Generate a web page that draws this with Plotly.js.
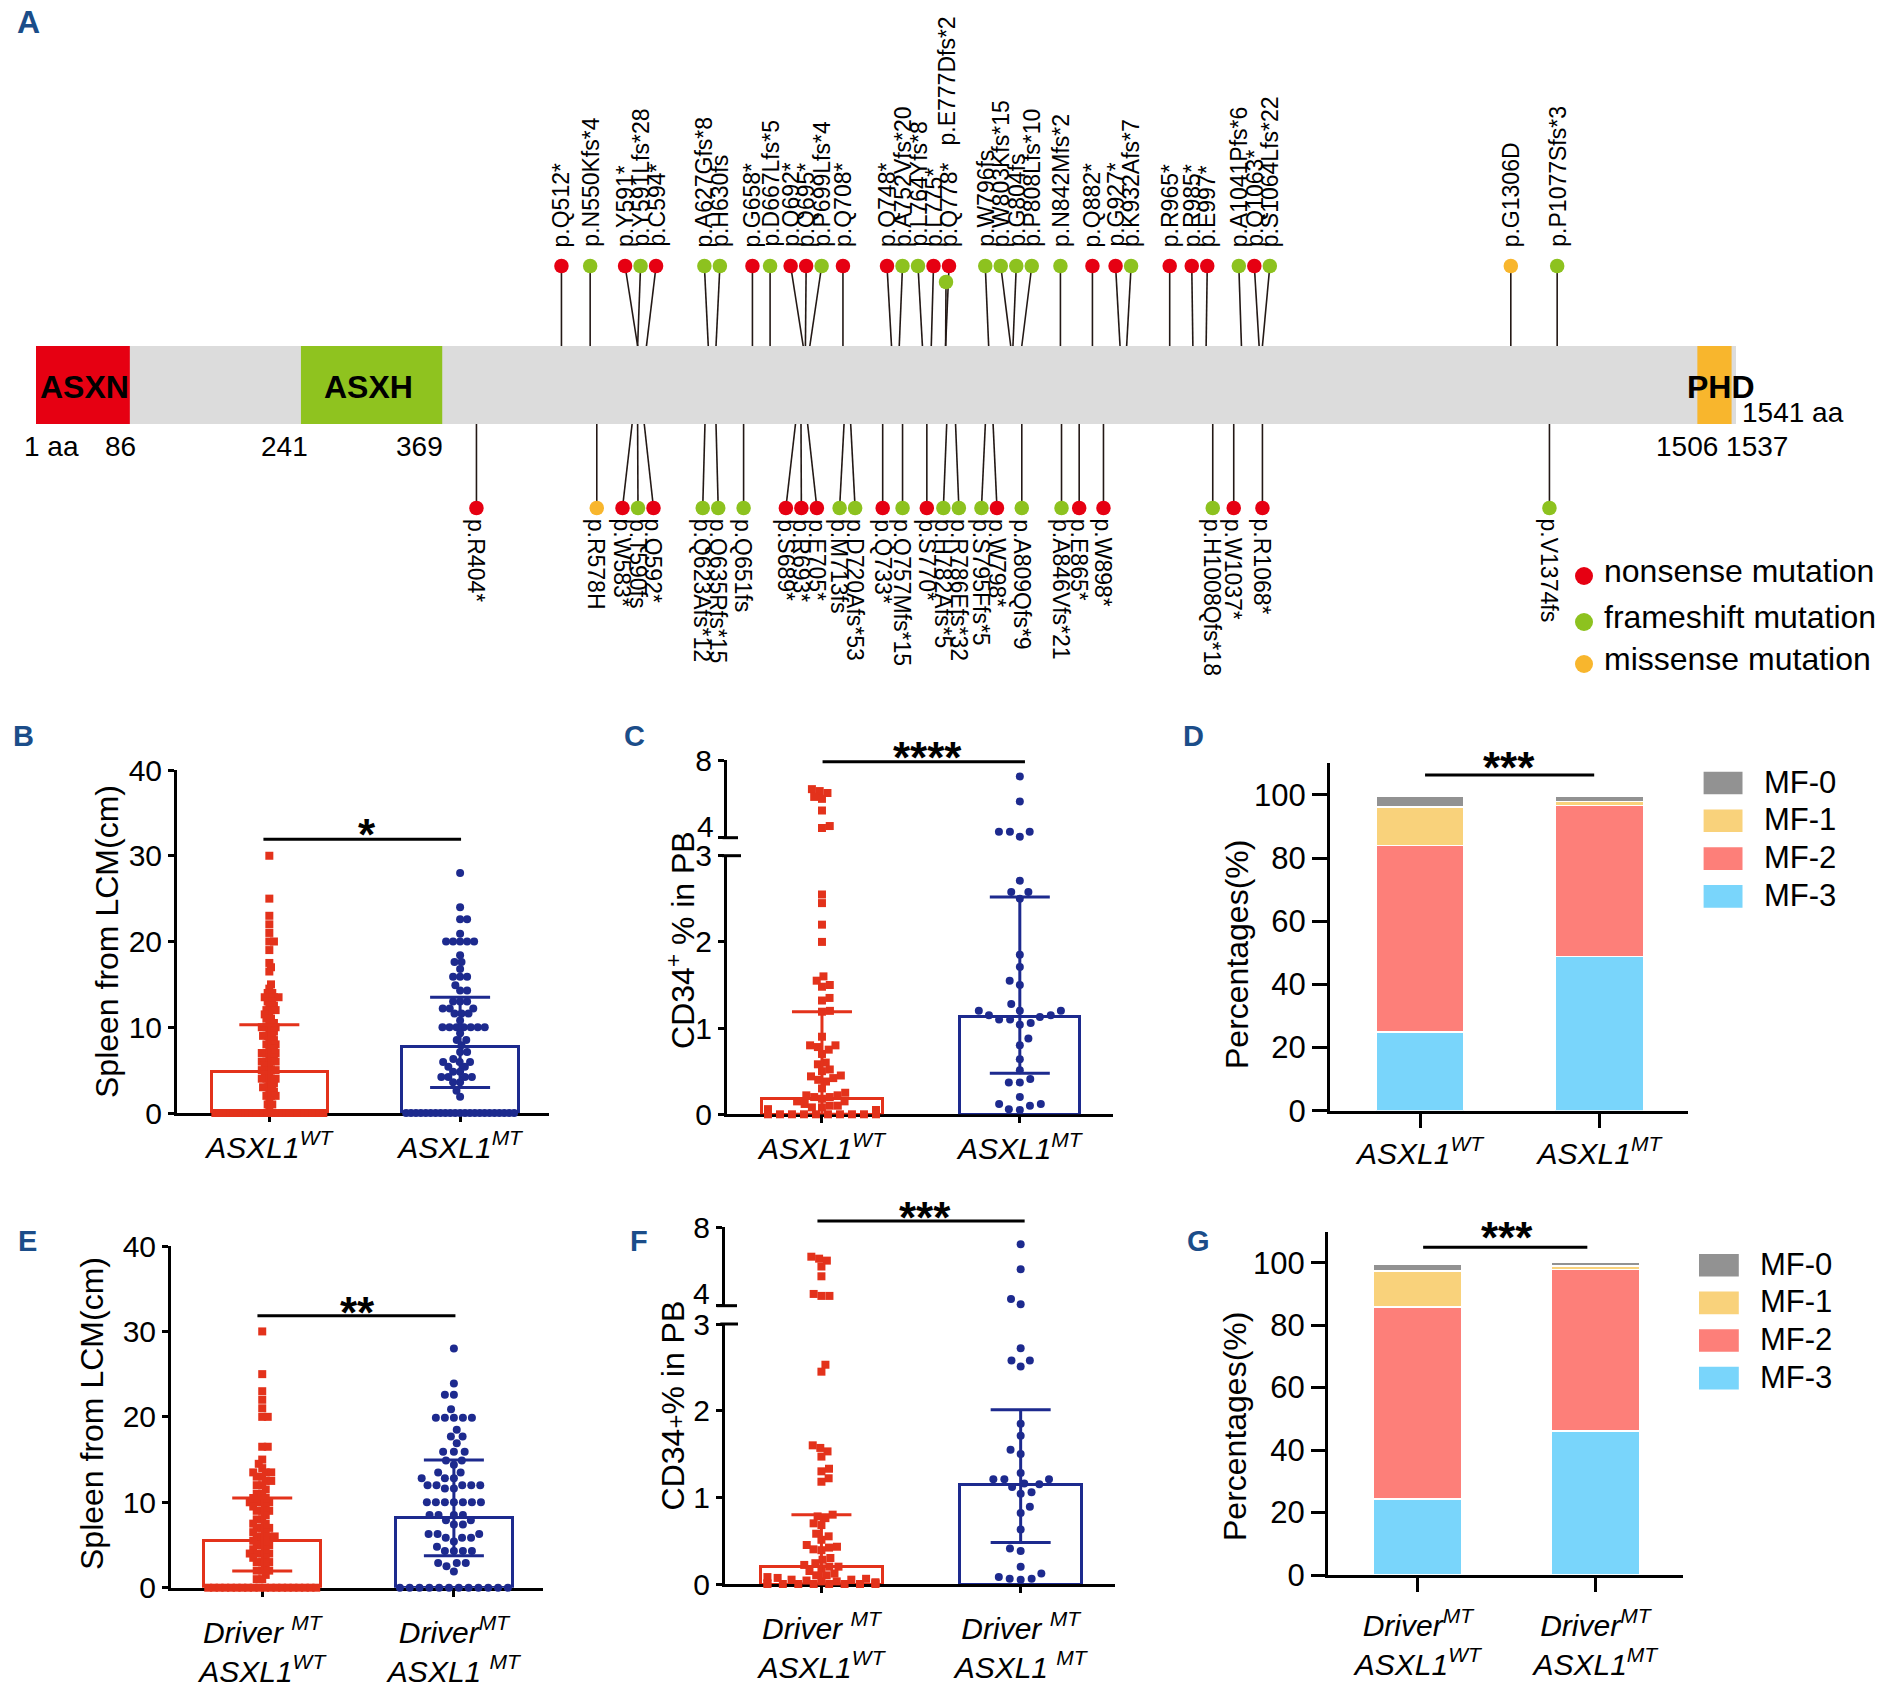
<!DOCTYPE html>
<html><head><meta charset="utf-8">
<script src="https://cdn.plot.ly/plotly-3.0.1.min.js"></script>
<style>html,body{margin:0;padding:0;background:#fff}</style>
</head><body><div id="chart" style="width:1897px;height:1698px"></div>
<script>
// ====================== DATA ======================
// Panel A: ASXL1 protein, domains, mutations (positions, aa scale of the bar)
const proteinLength = 1541;
const domainNames  = ['ASXN', 'ASXH', 'PHD'];
const domainStarts = [1, 241, 1506];
const domainEnds   = [86, 369, 1537];
const positionLabels = ['1 aa', '86', '241', '369', '1506 1537', '1541 aa'];

const topMutLabels = ['p.Q512*','p.N550Kfs*4','p.Y591*','p.Y591Lfs*28','p.C594*','p.A627Gfs*8','p.H630fs','p.G658*','p.D667Lfs*5','p.Q692*','p.Q695*','p.P699Lfs*4','p.Q708*','p.Q748*','p.A752Vfs*20','p.L764Yfs*8','p.L775*','p.Q778*','p.E777Dfs*2','p.W796fs','p.W803Kfs*15','p.G804fs','p.P808Lfs*10','p.N842Mfs*2','p.Q882*','p.G927*','p.K932Afs*7','p.R965*','p.R985*','p.E997*','p.A1041Pfs*6','p.Q1063*','p.S1064Lfs*22','p.G1306D','p.P1077Sfs*3'];
const topMutTypes = ['nonsense','frameshift','nonsense','frameshift','nonsense','frameshift','frameshift','nonsense','frameshift','nonsense','nonsense','frameshift','nonsense','nonsense','frameshift','frameshift','nonsense','nonsense','frameshift','frameshift','frameshift','frameshift','frameshift','frameshift','nonsense','nonsense','frameshift','nonsense','nonsense','nonsense','frameshift','nonsense','frameshift','missense','frameshift'];
const topMutPos = [477,503,546,546,554,610,617,650,666,696,698,702,732,776,783,804,812,825,825,864,884,886,894,929,958,983,989,1028,1049,1061,1093,1109,1112,1337,1379];

const botMutLabels = ['p.R404*','p.R578H','p.W583*','p.T590fs','p.Q592*','p.Q623Afs*12','p.Q635Rfs*15','p.Q651fs','p.S689*','p.R693*','p.E705*','p.M713fs','p.D720Afs*53','p.Q733*','p.Q757Mfs*15','p.S770*','p.H782Afs*5','p.R786Efs*32','p.S795Ffs*5','p.W798*','p.A809Qfs*9','p.A846Vfs*21','p.E865*','p.W898*','p.H1008Qfs*18','p.W1037*','p.R1068*','p.V1374fs'];
const botMutTypes = ['nonsense','missense','nonsense','frameshift','nonsense','frameshift','frameshift','frameshift','nonsense','nonsense','nonsense','frameshift','frameshift','nonsense','frameshift','nonsense','frameshift','frameshift','frameshift','nonsense','frameshift','frameshift','nonsense','nonsense','frameshift','nonsense','nonsense','frameshift'];
const botMutPos = [400,509,541,546,552,607,617,642,689,694,700,733,739,768,786,808,826,834,861,868,894,930,946,968,1067,1086,1112,1372];

const mutTypes = ['nonsense','frameshift','missense'];
const mutTypeLabels = ['nonsense mutation','frameshift mutation','missense mutation'];

// Panels B/C/D tick labels, E/F/G tick labels
const ticksBCD = ['<i>ASXL1<sup>WT</sup></i>', '<i>ASXL1<sup>MT</sup></i>'];
const ticksE = ['<i>Driver <sup>MT</sup></i><br><i>ASXL1<sup>WT</sup></i>', '<i>Driver<sup>MT</sup></i><br><i>ASXL1 <sup>MT</sup></i>'];
const ticksF = ['<i>Driver <sup>MT</sup></i><br><i>ASXL1<sup>WT</sup></i>', '<i>Driver <sup>MT</sup></i><br><i>ASXL1 <sup>MT</sup></i>'];
const ticksG = ['<i>Driver<sup>MT</sup></i><br><i>ASXL1<sup>WT</sup></i>', '<i>Driver<sup>MT</sup></i><br><i>ASXL1<sup>MT</sup></i>'];

// Panel B: spleen (cm), individual values
const spleenB_WT = [30,25,23,22,21,20,20,19,17.5,17,16.5,15,14.5,14,14,13.5,13.5,13.5,13.5,13,13,12.5,12.5,12,12,12,11.5,11.5,11,11,10.5,10.5,10,10,10,10,9.5,9.5,9,9,9,8.5,8.5,8,8,8,7.5,7.5,7,7,7,7,6.5,6.5,6,6,6,6,5.5,5.5,5,5,5,5,4.5,4.5,4,4,4,4,3.5,3.5,3,3,3,2.5,2.5,2,2,2,1.5,1,1,0.5,0,0,0,0,0,0,0,0,0,0,0,0,0,0,0,0,0,0,0,0,0,0,0,0,0,0,0,0,0,0];
const spleenB_MT = [28,24,22.6,22.6,20.9,20,20,20,20,20,18.4,17.6,17.6,16.8,15.9,15.9,15.9,14.9,14.3,14.3,13,13,13,12.2,12.2,12.2,11.6,11.6,11.6,10.8,10,10,10,10,10,10,10,9.3,8.5,8.5,7.9,7.1,7.1,6.3,5.95,5.95,5.95,5.4,5.4,4.8,4.8,4.2,4.2,4.2,4.2,3.6,3.6,2.6,1.9,0,0,0,0,0,0,0,0,0,0,0,0,0,0,0,0,0,0,0,0,0,0,0];
const spleenB_bar = [4.8, 7.8];
const spleenB_hi  = [10.3, 13.5];
const spleenB_lo  = [0, 2.96];

// Panel C: CD34+ % in PB
const cd34C_WT = [6.5,6.4,6.3,6.1,6.0,5.4,4.6,4.5,2.55,2.45,2.2,2.0,1.6,1.55,1.5,1.48,1.35,1.32,1.2,1.19,0.9,0.8,0.8,0.78,0.75,0.7,0.6,0.58,0.52,0.5,0.45,0.44,0.42,0.4,0.38,0.3,0.25,0.22,0.22,0.2,0.2,0.18,0.15,0.15,0.12,0.1,0.1,0.08,0.08,0.06,0.05,0.05,0.04,0.03,0.03,0.02,0.02,0.01,0.01,0,0,0,0,0,0,0,0,0,0];
const cd34C_MT = [7.15,5.86,4.3,4.3,4.3,4.05,2.71,2.58,2.58,2.5,1.85,1.71,1.55,1.5,1.28,1.2,1.2,1.2,1.15,1.15,1.13,1.1,1.1,1.06,1.04,0.88,0.8,0.64,0.51,0.41,0.37,0.37,0.2,0.12,0.12,0.1,0.06,0.05];
const cd34C_bar = [0.186, 1.14];
const cd34C_hi  = [1.19, 2.52];
const cd34C_lo  = [0, 0.476];

// Panel D: MF grade percentages (MF-0, MF-1, MF-2, MF-3)
const mfGrades = ['MF-0','MF-1','MF-2','MF-3'];
const mfD_WT = [3.3, 12.2, 59, 25];
const mfD_MT = [1.5, 1.4, 47.8, 48.8];

// Panel E: spleen (cm), driver-mutated patients
const spleenE_WT = [30,25,23,22,21,20,20,16.5,16.5,15,14.5,14,13.5,13.5,13.5,13,13,12.5,12.5,12,12,11.5,11,11,10.5,10.5,10,10,10,10,9.5,9.5,9,9,9,8.5,8,8,7.5,7.5,7,7,7,6.5,6.5,6,6,6,6,5.5,5.5,5,5,5,4.5,4.5,4,4,4,4,3.5,3.5,3,3,3,2.5,2,2,2,1.5,1,1,0,0,0,0,0,0,0,0,0,0,0,0,0,0,0,0,0,0,0,0];
const spleenE_MT = [28,23.9,22.6,22.6,20.9,19.9,19.9,19.9,19.9,19.9,18.5,17.7,17.7,16.9,15.9,15.9,15.9,14.9,14.9,14.4,13.5,13.5,12.8,12.8,12.8,12,12,12,12,12,11.6,11.6,10,10,10,10,10,10,10,8.5,8.5,8.5,8.5,7.9,7.9,7.4,7.4,6.3,6.3,6.3,5.85,5.85,5.85,5.4,4.8,4.3,4.3,4.3,4.3,2.9,2.9,2.9,2.5,1.9,0,0,0,0,0,0,0,0,0,0,0,0];
const spleenE_bar = [5.58, 8.24];
const spleenE_hi  = [10.5, 14.95];
const spleenE_lo  = [1.95, 3.75];

// Panel F: CD34+ % in PB, driver-mutated patients
const cd34F_WT = [6.5,6.4,6.3,6.0,5.5,4.6,4.5,4.5,2.53,2.45,1.6,1.57,1.53,1.47,1.33,1.3,1.22,1.18,0.8,0.78,0.76,0.7,0.68,0.58,0.55,0.51,0.45,0.43,0.42,0.4,0.39,0.3,0.28,0.24,0.22,0.2,0.2,0.18,0.15,0.12,0.1,0.1,0.08,0.07,0.06,0.05,0.05,0.04,0.03,0.03,0.02,0.01,0.01,0,0,0,0,0,0,0,0];
const cd34F_MT = [7.14,5.86,4.34,4.07,2.72,2.58,2.58,2.51,1.85,1.71,1.55,1.5,1.28,1.21,1.21,1.21,1.16,1.15,1.12,1.06,1.04,0.89,0.82,0.63,0.41,0.38,0.2,0.12,0.08,0.06,0.06,0.05];
const cd34F_bar = [0.2, 1.15];
const cd34F_hi  = [0.8, 2.01];
const cd34F_lo  = [0, 0.48];

// Panel G: MF grade percentages (MF-0, MF-1, MF-2, MF-3)
const mfG_WT = [2.0, 11.5, 61.6, 24.3];
const mfG_MT = [1.3, 1.1, 51.8, 46.1];

const sigMarks = {B:'*', C:'****', D:'***', E:'**', F:'***', G:'***'};
const yTitles = {B:'Spleen from LCM(cm)', C:'CD34<sup>+</sup> % in PB', D:'Percentages(%)', E:'Spleen from LCM(cm)', F:'CD34<span style="font-size:24px">+</span>% in PB', G:'Percentages(%)'};

// ====================== STYLE / LAYOUT ======================
const W = 1897, H = 1698;
const FONT = 'Liberation Sans, Arial, Helvetica, sans-serif';
const RED = '#e3321b', BLUE = '#1d2a8e';
const TYPE_COLORS = {nonsense:'#e60012', frameshift:'#8dc21f', missense:'#f8b62d'};
const DOMAIN_COLORS = ['#e60012', '#8fc31f', '#f8b62d'];
const MF_COLORS = {'MF-0':'#929292','MF-1':'#f9d27b','MF-2':'#fd7f79','MF-3':'#79d5fb'};
const LETTER_COLOR = '#1b4d89';
const px2fx = px => px / W;
const px2fy = px => 1 - px / H;

const traces = [];
const annotations = [];
const shapes = [];
const layout = {
  width: W, height: H, margin: {l:0, r:0, t:0, b:0},
  paper_bgcolor: '#fff', plot_bgcolor: 'rgba(0,0,0,0)',
  showlegend: false, barmode: 'stack', hovermode: false,
  font: {family: FONT, color: '#000', size: 20},
  annotations, shapes
};

// ---------- Panel A ----------
const BAR_L_PX = 36, BAR_R_PX = 1736;
const AA_PER_PX = (proteinLength - 1) / (BAR_R_PX - BAR_L_PX);
const pxToAa = px => 1 + (px - BAR_L_PX) * AA_PER_PX;
const BAR_TOP = 346, BAR_BOT = 424;
const HEAD_TOP_Y = 266, HEAD_BOT_Y = 508;
const LABEL_TOP_Y = 248, LABEL_BOT_Y = 518;
const STACK_HEAD_Y = 282, STACK_LABEL_Y = 147;
const STACKED = new Set(['p.E777Dfs*2']);
const GAP_AA = 15.5 * AA_PER_PX;
const MUT_FONT = 23;

layout.xaxis = {domain:[0,1], range:[pxToAa(0), pxToAa(W)], visible:false, fixedrange:true};
layout.yaxis = {domain:[1 - 700/H, 1], range:[700, 0], visible:false, fixedrange:true};

shapes.push({type:'rect', xref:'x', yref:'y', x0:1, x1:proteinLength, y0:BAR_TOP, y1:BAR_BOT, fillcolor:'#dcdcdc', line:{width:0}, layer:'below'});
domainNames.forEach((n,i) => shapes.push({type:'rect', xref:'x', yref:'y', x0:domainStarts[i], x1:domainEnds[i], y0:BAR_TOP, y1:BAR_BOT, fillcolor:DOMAIN_COLORS[i], line:{width:0}, layer:'below'}));

const domainLabelAnchor = ['left','center','center'];
const domainLabelShift = [3, -3, 7];
domainNames.forEach((n,i) => {
  const x = domainLabelAnchor[i] === 'left' ? domainStarts[i] : (domainStarts[i] + domainEnds[i]) / 2;
  annotations.push({xref:'x', yref:'y', x, y:399 + 0.212*32, xanchor:domainLabelAnchor[i], yanchor:'bottom', xshift:domainLabelShift[i],
    text:'<b>' + n + '</b>', showarrow:false, borderpad:0, font:{family:FONT, size:32, color:'#000'}});
});
// position labels under the bar
const posLabelPx = [51, 120, 284.5, 419.5, 1721.5, 1741];
const posLabelBase = [457, 457, 457, 457, 457, 423];
positionLabels.forEach((t,i) => {
  annotations.push({xref:'x', yref:'y', x:pxToAa(posLabelPx[i]), y:posLabelBase[i] + 0.212*28, xanchor: i === 5 ? 'left' : 'center', yanchor:'bottom',
    text:t, showarrow:false, borderpad:0, font:{family:FONT, size:28, color:'#000'}});
});

function spreadPositions(bases, gap) {
  let cl = bases.map(b => ({sum:b, n:1}));
  const c0 = c => c.sum / c.n;
  let merged = true;
  while (merged) {
    merged = false;
    for (let i = 0; i < cl.length - 1; i++) {
      const a = cl[i], b = cl[i+1];
      const aR = c0(a) + (a.n - 1) / 2 * gap, bL = c0(b) - (b.n - 1) / 2 * gap;
      if (bL - aR < gap - 1e-6) { cl.splice(i, 2, {sum:a.sum + b.sum, n:a.n + b.n}); merged = true; break; }
    }
  }
  const out = [];
  cl.forEach(c => { for (let k = 0; k < c.n; k++) out.push(c0(c) + (k - (c.n - 1) / 2) * gap); });
  return out;
}

function buildLollipops(labels, types, pos, side) {
  const idx = labels.map((_, i) => i);
  const main = idx.filter(i => !STACKED.has(labels[i])).sort((a, b) => pos[a] - pos[b] || a - b);
  const heads = spreadPositions(main.map(i => pos[i]), GAP_AA);
  const hx = [], hy = [], ly = [];
  main.forEach((i, k) => { hx[i] = heads[k]; hy[i] = side === 'top' ? HEAD_TOP_Y : HEAD_BOT_Y; ly[i] = side === 'top' ? LABEL_TOP_Y : LABEL_BOT_Y; });
  idx.filter(i => STACKED.has(labels[i])).forEach(i => {
    const j = main.find(k => pos[k] === pos[i]);
    hx[i] = hx[j] - 3 * AA_PER_PX; hy[i] = STACK_HEAD_Y; ly[i] = STACK_LABEL_Y;
  });
  const edge = side === 'top' ? BAR_TOP : BAR_BOT;
  const sx = [], sy = [];
  idx.forEach(i => { sx.push(hx[i], pos[i], null); sy.push(hy[i], edge, null); });
  traces.push({type:'scatter', mode:'lines', x:sx, y:sy, xaxis:'x', yaxis:'y', line:{color:'#231815', width:1.6}, hoverinfo:'skip', cliponaxis:false});
  mutTypes.forEach(t => {
    const ii = idx.filter(i => types[i] === t);
    if (!ii.length) return;
    traces.push({type:'scatter', mode:'markers', x:ii.map(i => hx[i]), y:ii.map(i => hy[i]), xaxis:'x', yaxis:'y',
      marker:{size:14.5, color:TYPE_COLORS[t], line:{width:0}}, hoverinfo:'skip', cliponaxis:false});
  });
  idx.forEach(i => annotations.push({xref:'x', yref:'y', x:hx[i], y:ly[i], text:labels[i], showarrow:false, borderpad:0,
    textangle: side === 'top' ? -90 : 90, xanchor:'center', yanchor: side === 'top' ? 'bottom' : 'top',
    font:{family:FONT, size:MUT_FONT, color:'#000'}}));
}
buildLollipops(topMutLabels, topMutTypes, topMutPos, 'top');
buildLollipops(botMutLabels, botMutTypes, botMutPos, 'bottom');

// legend of panel A
const legA_y = [576, 622, 664];
traces.push({type:'scatter', mode:'markers', x:mutTypes.map(() => pxToAa(1584)), y:legA_y, xaxis:'x', yaxis:'y',
  marker:{size:18, color:mutTypes.map(t => TYPE_COLORS[t])}, hoverinfo:'skip', cliponaxis:false});
mutTypeLabels.forEach((t, i) => annotations.push({xref:'x', yref:'y', x:pxToAa(1603), y:legA_y[i] + 7 + 0.212*32, xanchor:'left', yanchor:'bottom',
  text:t, showarrow:false, borderpad:0, font:{family:FONT, size:32, color:'#000'}}));

// ---------- Generic axis helpers ----------
function yAxis(dom, range, tickvals, extra) {
  return Object.assign({domain:[px2fy(dom[1]), px2fy(dom[0])], range, tickvals, ticktext:tickvals.map(String),
    showline:true, linecolor:'#000', linewidth:3, ticks:'outside', ticklen:6, tickwidth:3, tickcolor:'#000',
    showgrid:false, zeroline:false, fixedrange:true, tickfont:{family:FONT, size:30, color:'#000'}}, extra || {});
}
function xAxis(dom, range, ticktext, extra) {
  return Object.assign({domain:[px2fx(dom[0]), px2fx(dom[1])], range, tickvals:[0,1], ticktext, tickangle:0,
    showline:true, linecolor:'#000', linewidth:3, ticks:'outside', ticklen:6, tickwidth:3, tickcolor:'#000',
    showgrid:false, zeroline:false, fixedrange:true, tickfont:{family:FONT, size:30, color:'#000'}}, extra || {});
}
const yToPx = (v, dom, range) => dom[1] - (v - range[0]) / (range[1] - range[0]) * (dom[1] - dom[0]);

function beeswarm(ys, r, maxHalf) {
  const n = ys.length, xs = new Array(n).fill(0), placed = [], done = new Set();
  const groups = new Map();
  ys.forEach((y, i) => { const k = y.toFixed(2); if (!groups.has(k)) groups.set(k, []); groups.get(k).push(i); });
  groups.forEach(list => {
    if (list.length >= 8) {
      const s = 2 * maxHalf / (list.length - 1);
      list.forEach((i, k) => { xs[i] = -maxHalf + k * s; placed.push(i); done.add(i); });
    }
  });
  const order = ys.map((_, i) => i).filter(i => !done.has(i)).sort((a, b) => ys[b] - ys[a] || a - b);
  order.forEach((i, oi) => {
    const y = ys[i];
    const near = placed.filter(j => Math.abs(ys[j] - y) < r);
    const cands = [0];
    near.forEach(j => { const dx = Math.sqrt(r * r - (ys[j] - y) ** 2); cands.push(xs[j] + dx + 0.01, xs[j] - dx - 0.01); });
    const sgn = oi % 2 ? 1 : -1;
    cands.sort((a, b) => Math.abs(a) - Math.abs(b) || sgn * (a - b));
    let best = null;
    for (const c of cands) {
      if (near.every(j => (xs[j] - c) ** 2 + (ys[j] - y) ** 2 >= r * r - 1e-3)) { best = c; break; }
    }
    if (best === null) best = 0;
    if (Math.abs(best) > maxHalf) best = Math.sign(best) * maxHalf;
    xs[i] = best; placed.push(i);
  });
  return xs;
}

function dotPanel(c) {
  const xPerPx = (c.xRange[1] - c.xRange[0]) / (c.xDom[1] - c.xDom[0]);
  traces.push({type:'bar', x:[0,1], y:c.bar, width:c.barWidth, xaxis:c.xId, yaxis:c.yId,
    marker:{color:'#fff', line:{color:[RED, BLUE], width:3}}, hoverinfo:'skip'});
  [[c.wt, 0, 'square', RED, c.rWT], [c.mt, 1, 'circle', BLUE, c.rMT]].forEach(([vals, cat, sym, col, r]) => {
    const isUp = v => !!c.yUId && v > c.yRange[1];
    const py = vals.map(v => isUp(v) ? yToPx(v, c.yUDom, c.yURange) : yToPx(v, c.yDom, c.yRange));
    const off = beeswarm(py, r, 54);
    const lx = [], lyv = [], ux = [], uy = [];
    vals.forEach((v, i) => { const x = cat + off[i] * xPerPx; if (isUp(v)) { ux.push(x); uy.push(v); } else { lx.push(x); lyv.push(v); } });
    traces.push({type:'scatter', mode:'markers', x:lx, y:lyv, xaxis:c.xId, yaxis:c.yId, marker:{symbol:sym, size:8, color:col, line:{width:0}}, cliponaxis:false, hoverinfo:'skip'});
    if (ux.length) traces.push({type:'scatter', mode:'markers', x:ux, y:uy, xaxis:c.xId, yaxis:c.yUId, marker:{symbol:sym, size:8, color:col, line:{width:0}}, cliponaxis:false, hoverinfo:'skip'});
  });
  [0, 1].forEach(i => traces.push({type:'scatter', mode:'markers', x:[i], y:[c.bar[i]], xaxis:c.xId, yaxis:c.yId,
    marker:{size:1, color:'rgba(0,0,0,0)'}, cliponaxis:false, hoverinfo:'skip',
    error_y:{type:'data', visible:true, symmetric:false, array:[c.hi[i] - c.bar[i]], arrayminus:[c.bar[i] - c.lo[i]], color:[RED, BLUE][i], thickness:3, width:30}}));
}

function stackPanel(c) {
  const order = ['MF-3','MF-2','MF-1','MF-0'];
  order.forEach(g => {
    const k = mfGrades.indexOf(g);
    traces.push({type:'bar', x:[0,1], y:[c.wt[k], c.mt[k]], width:c.barWidth, xaxis:c.xId, yaxis:c.yId,
      marker:{color:MF_COLORS[g], line:{color:'#fff', width:1.5}}, hoverinfo:'skip'});
  });
  mfGrades.forEach((g, i) => {
    const top = c.legTop + i * c.legStep;
    shapes.push({type:'rect', xref:'paper', yref:'paper', x0:px2fx(c.legX[0]), x1:px2fx(c.legX[1]), y0:px2fy(top + 22.6), y1:px2fy(top), fillcolor:MF_COLORS[g], line:{width:0}});
    annotations.push({xref:'paper', yref:'paper', x:px2fx(c.legTextX), y:px2fy(top + 11.3 + 11 + 0.212*31), xanchor:'left', yanchor:'bottom', text:g, showarrow:false, borderpad:0, font:{family:FONT, size:31, color:'#000'}});
  });
}

function sigBar(xId, x0, x1, yPx, text, starCx, starCy) {
  shapes.push({type:'line', xref:xId, yref:'paper', x0, x1, y0:px2fy(yPx), y1:px2fy(yPx), line:{color:'#000', width:3}});
  annotations.push({xref:'paper', yref:'paper', x:px2fx(starCx), y:px2fy(starCy + 0.8*44), xanchor:'center', yanchor:'bottom', text:'<b>' + text + '</b>', showarrow:false, borderpad:0, font:{family:FONT, size:44, color:'#000'}});
}
function yTitle(text, cx, cy) {
  annotations.push({xref:'paper', yref:'paper', x:px2fx(cx), y:px2fy(cy), xanchor:'center', yanchor:'middle', textangle:-90, text, showarrow:false, borderpad:0, font:{family:FONT, size:32, color:'#000'}});
}
function letter(t, lx, base) {
  annotations.push({xref:'paper', yref:'paper', x:px2fx(lx), y:px2fy(base + 0.212*29), xanchor:'left', yanchor:'bottom', text:'<b>' + t + '</b>', showarrow:false, borderpad:0, font:{family:FONT, size: t === 'A' ? 32 : 29, color:LETTER_COLOR}});
}
function breakMarks(ax, y3, y4, x3r, x4l, x4r) {
  shapes.push({type:'line', xref:'paper', yref:'paper', x0:px2fx(ax - 6), x1:px2fx(x3r), y0:px2fy(y3), y1:px2fy(y3), line:{color:'#000', width:3}});
  shapes.push({type:'line', xref:'paper', yref:'paper', x0:px2fx(x4l), x1:px2fx(x4r), y0:px2fy(y4), y1:px2fy(y4), line:{color:'#000', width:3}});
}
function fourLabel(rightPx, cy) {
  annotations.push({xref:'paper', yref:'paper', x:px2fx(rightPx), y:px2fy(cy), xanchor:'right', yanchor:'middle', text:'4', showarrow:false, borderpad:0, font:{family:FONT, size:30, color:'#000'}});
}

// ---------- Panel B ----------
layout.xaxis2 = xAxis([177, 549], [-0.484, 1.466], ticksBCD, {anchor:'y2', layer:'below traces'});
layout.yaxis2 = yAxis([770, 1113], [0, 40], [0,10,20,30,40], {anchor:'x2'});
dotPanel({xId:'x2', yId:'y2', xDom:[177,549], xRange:[-0.484,1.466], yDom:[770,1113], yRange:[0,40], barWidth:0.61, rWT:4.6, rMT:7,
  wt:spleenB_WT, mt:spleenB_MT, bar:spleenB_bar, hi:spleenB_hi, lo:spleenB_lo});
sigBar('x2', -0.031, 1.005, 839.3, sigMarks.B, 367, 825);
yTitle(yTitles.B, 107, 942);
letter('B', 11.5, 747);

// ---------- Panel C ----------
layout.xaxis3 = xAxis([727, 1113], [-0.48, 1.471], ticksBCD, {anchor:'y3', layer:'below traces'});
layout.yaxis3 = yAxis([855.7, 1114.3], [0, 3], [0,1,2,3], {anchor:'x3'});
layout.yaxis4 = yAxis([760, 837.7], [4, 8], [4, 8], {anchor:'x3', ticktext:['', '8']});
dotPanel({xId:'x3', yId:'y3', yUId:'y4', xDom:[727,1113], xRange:[-0.48,1.471], yDom:[855.7,1114.3], yRange:[0,3], yUDom:[760,837.7], yURange:[4,8], barWidth:0.607, rWT:8, rMT:11,
  wt:cd34C_WT, mt:cd34C_MT, bar:cd34C_bar, hi:cd34C_hi, lo:cd34C_lo});
breakMarks(728, 855.7, 837.7, 741, 722.5, 738);
fourLabel(714.8, 826.7);
sigBar('x3', 0.003, 1.026, 761.7, sigMarks.C, 927, 748);
yTitle(yTitles.C, 680.4, 939.5);
letter('C', 623, 747);

// ---------- Panel D ----------
layout.xaxis4 = xAxis([1330, 1688], [-0.502, 1.494], ticksBCD, {anchor:'y5', ticklen:14});
layout.yaxis5 = yAxis([763.4, 1110.7], [0, 110], [0,20,40,60,80,100], {anchor:'x4', ticklen:15, tickfont:{family:FONT, size:31, color:'#000'}});
stackPanel({xId:'x4', yId:'y5', barWidth:0.49, wt:mfD_WT, mt:mfD_MT, legX:[1703.6, 1742.5], legTop:771.7, legStep:37.8, legTextX:1763});
sigBar('x4', 0.028, 0.971, 775, sigMarks.D, 1509, 758);
yTitle(yTitles.D, 1237, 955);
letter('D', 1182, 747);

// ---------- Panel E ----------
layout.xaxis5 = xAxis([171, 543.4], [-0.476, 1.467], ticksE, {anchor:'y6', layer:'below traces', ticklabelstandoff:10});
layout.yaxis6 = yAxis([1246, 1587.7], [0, 40], [0,10,20,30,40], {anchor:'x5'});
dotPanel({xId:'x5', yId:'y6', xDom:[171,543.4], xRange:[-0.476,1.467], yDom:[1246,1587.7], yRange:[0,40], barWidth:0.61, rWT:5.5, rMT:9,
  wt:spleenE_WT, mt:spleenE_MT, bar:spleenE_bar, hi:spleenE_hi, lo:spleenE_lo});
sigBar('x5', -0.025, 1.008, 1315.7, sigMarks.E, 357.8, 1303);
yTitle(yTitles.E, 92, 1414);
letter('E', 17, 1252);

// ---------- Panel F ----------
layout.xaxis6 = xAxis([725, 1114.7], [-0.484, 1.472], ticksF, {anchor:'y7', layer:'below traces', ticklabelstandoff:10});
layout.yaxis7 = yAxis([1324, 1584], [0, 3], [0,1,2,3], {anchor:'x6'});
layout.yaxis8 = yAxis([1227.3, 1305.7], [4, 8], [4, 8], {anchor:'x6', ticktext:['', '8']});
dotPanel({xId:'x6', yId:'y7', yUId:'y8', xDom:[725,1114.7], xRange:[-0.484,1.472], yDom:[1324,1584], yRange:[0,3], yUDom:[1227.3,1305.7], yURange:[4,8], barWidth:0.61, rWT:8, rMT:11,
  wt:cd34F_WT, mt:cd34F_MT, bar:cd34F_bar, hi:cd34F_hi, lo:cd34F_lo});
breakMarks(726.3, 1324, 1305.7, 738, 716.7, 737);
fourLabel(711, 1293);
sigBar('x6', -0.02, 1.02, 1221, sigMarks.F, 925, 1208);
yTitle(yTitles.F, 672.7, 1405.7);
letter('F', 628.7, 1252);

// ---------- Panel G ----------
layout.xaxis7 = xAxis([1328, 1683], [-0.506, 1.494], ticksG, {anchor:'y9', ticklen:14, ticklabelstandoff:8});
layout.yaxis9 = yAxis([1231.5, 1575], [0, 110], [0,20,40,60,80,100], {anchor:'x7', ticklen:14, tickfont:{family:FONT, size:31, color:'#000'}});
stackPanel({xId:'x7', yId:'y9', barWidth:0.497, wt:mfG_WT, mt:mfG_MT, legX:[1699, 1738.8], legTop:1254, legStep:37.6, legTextX:1758.5});
sigBar('x7', 0.03, 0.955, 1247.3, sigMarks.G, 1507, 1228);
yTitle(yTitles.G, 1235, 1427);
letter('G', 1185.5, 1251.7);

letter('A', 16, 35);

Plotly.newPlot('chart', traces, layout, {staticPlot:true, displayModeBar:false});
</script>
</body></html>
